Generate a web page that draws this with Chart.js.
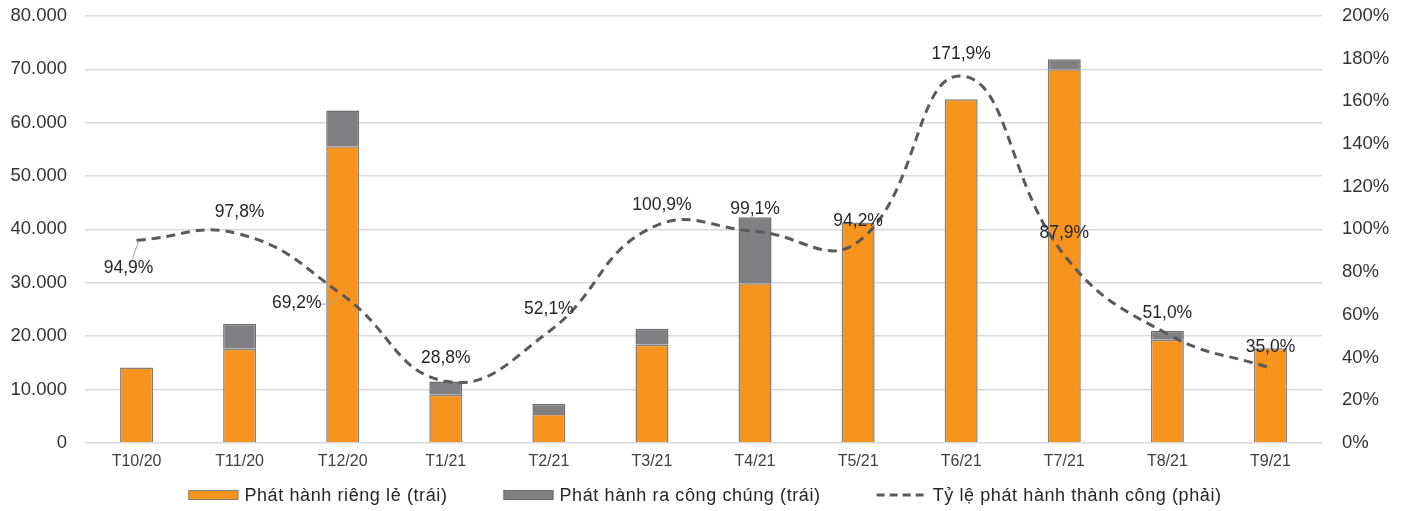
<!DOCTYPE html>
<html>
<head>
<meta charset="utf-8">
<script src="https://cdn.jsdelivr.net/npm/chart.js@4"></script>
<style>
  html, body { margin: 0; padding: 0; background: #fff; }
  #wrap { width: 1410px; height: 511px; position: relative; }
</style>
</head>
<body>
<div id="wrap"><canvas id="c" width="1410" height="511"></canvas></div>
<script>
const categories = ["T10/20","T11/20","T12/20","T1/21","T2/21","T3/21","T4/21","T5/21","T6/21","T7/21","T8/21","T9/21"];
const privateIssue = [14100, 17650, 55600, 9000, 5400, 18400, 29900, 41300, 64400, 70000, 19300, 17700];
const publicIssue  = [0, 4650, 6700, 2500, 1900, 3000, 12400, 0, 0, 1900, 1700, 0];
const successRate  = [94.9, 97.8, 69.2, 28.8, 52.1, 100.9, 99.1, 94.2, 171.9, 87.9, 51.0, 35.0];
const leftTicks = [0, 10000, 20000, 30000, 40000, 50000, 60000, 70000, 80000];
const rightTicks = [0, 20, 40, 60, 80, 100, 120, 140, 160, 180, 200];

const seriesNames = ["Phát hành riêng lẻ (trái)", "Phát hành ra công chúng (trái)", "Tỷ lệ phát hành thành công (phải)"];

// label placement style (offsets from the point, in px)
const labelStyle = {
  font: '17.5px "Liberation Sans", Arial, sans-serif',
  color: '#262626',
  offsets: [[-8,28],[0,-22],[-46,8],[0,-23],[0,-22],[10,-22],[0,-22],[0,-21],[0,-22],[0,-22],[0,-21],[0,-21]],
  leaders: [0, 2]
};

const legendStyle = {
  font: '18px "Liberation Sans", Arial, sans-serif',
  letterSpacing: '0.6px',
  color: '#262626',
  boxW: 50, boxH: 10, textGap: 6, itemGap: 56, y: 495
};

function fmtThousands(v) {
  return String(v).replace(/\B(?=(\d{3})+(?!\d))/g, '.');
}
function fmtPct(v) {
  return v.toFixed(1).replace('.', ',') + '%';
}

const dataLabelPlugin = {
  id: 'dataLabels',
  afterDatasetsDraw(chart) {
    const meta = chart.getDatasetMeta(2);
    const ctx = chart.ctx;
    ctx.save();
    ctx.font = labelStyle.font;
    ctx.fillStyle = labelStyle.color;
    ctx.textAlign = 'center';
    ctx.textBaseline = 'middle';
    meta.data.forEach((pt, i) => {
      const [dx, dy] = labelStyle.offsets[i];
      const tx = pt.x + dx, ty = pt.y + dy;
      if (labelStyle.leaders.includes(i)) {
        ctx.save();
        ctx.strokeStyle = '#a6a6a6';
        ctx.lineWidth = 1;
        ctx.beginPath();
        if (i === 0) {
          ctx.moveTo(tx + 4, ty - 10);
          ctx.lineTo(pt.x + 2, pt.y + 1);
        } else {
          ctx.moveTo(tx + 24, ty + 1);
          ctx.lineTo(tx + 34, ty + 1);
          ctx.lineTo(pt.x - 4, pt.y + 2);
        }
        ctx.stroke();
        ctx.restore();
      }
      ctx.fillText(fmtPct(successRate[i]), tx, ty);
    });
    ctx.restore();
  }
};

const legendPlugin = {
  id: 'customLegend',
  afterDraw(chart) {
    const ctx = chart.ctx;
    const ds = chart.data.datasets;
    ctx.save();
    ctx.font = legendStyle.font;
    ctx.letterSpacing = legendStyle.letterSpacing;
    const widths = ds.map(d => legendStyle.boxW + legendStyle.textGap + ctx.measureText(d.label).width);
    const total = widths.reduce((a, b) => a + b, 0) + legendStyle.itemGap * (ds.length - 1);
    let x = (chart.width - total) / 2;
    const y = legendStyle.y;
    ds.forEach((d, i) => {
      if (d.type === 'line') {
        ctx.strokeStyle = d.borderColor;
        ctx.lineWidth = d.borderWidth;
        ctx.setLineDash([8, 5]);
        ctx.beginPath();
        ctx.moveTo(x, y);
        ctx.lineTo(x + legendStyle.boxW, y);
        ctx.stroke();
        ctx.setLineDash([]);
      } else {
        ctx.fillStyle = d.backgroundColor;
        ctx.fillRect(x, y - legendStyle.boxH / 2, legendStyle.boxW, legendStyle.boxH);
        ctx.strokeStyle = d.borderColor;
        ctx.lineWidth = 1;
        ctx.strokeRect(x + 0.5, y - legendStyle.boxH / 2 + 0.5, legendStyle.boxW - 1, legendStyle.boxH - 1);
      }
      ctx.fillStyle = legendStyle.color;
      ctx.textAlign = 'left';
      ctx.textBaseline = 'middle';
      ctx.fillText(d.label, x + legendStyle.boxW + legendStyle.textGap, y + 1);
      x += widths[i] + legendStyle.itemGap;
    });
    ctx.restore();
  }
};

Chart.defaults.font.family = '"Liberation Sans", Arial, sans-serif';
Chart.defaults.color = '#333333';

function noVPad(scale) { scale.paddingTop = 0; scale.paddingBottom = 0; }

new Chart(document.getElementById('c'), {
  data: {
    labels: categories,
    datasets: [
      {
        type: 'bar',
        label: seriesNames[0],
        data: privateIssue,
        backgroundColor: '#F7941D',
        borderColor: '#7F7F7F',
        borderWidth: 1.5,
        yAxisID: 'y',
        stack: 's',
        order: 2,
        barPercentage: 0.64,
        categoryPercentage: 0.5
      },
      {
        type: 'bar',
        label: seriesNames[1],
        data: publicIssue,
        backgroundColor: '#808083',
        borderColor: '#6E6E6E',
        borderWidth: 1.5,
        yAxisID: 'y',
        stack: 's',
        order: 2,
        barPercentage: 0.64,
        categoryPercentage: 0.5
      },
      {
        type: 'line',
        label: seriesNames[2],
        data: successRate,
        yAxisID: 'y1',
        borderColor: '#5A5A5A',
        borderWidth: 3,
        borderDash: [9, 6],
        pointRadius: 0,
        tension: 0.45,
        fill: false,
        order: 0
      }
    ]
  },
  options: {
    responsive: false,
    animation: false,
    layout: { padding: { left: 0, right: 0, top: 16, bottom: 39 } },
    plugins: {
      tooltip: { enabled: false },
      legend: { display: false }
    },
    scales: {
      x: {
        stacked: true,
        grid: { display: false },
        border: { display: false },
        ticks: { font: { size: 16 }, color: '#404040', padding: 1, maxRotation: 0 }
      },
      y: {
        position: 'left',
        stacked: true,
        min: 0, max: 80000,
        afterBuildTicks(scale) { scale.ticks = leftTicks.map(v => ({ value: v })); },
        afterFit(scale) { scale.width = 85; noVPad(scale); },
        grid: { color: '#D9D9D9', lineWidth: 1.5, drawTicks: false },
        border: { display: false },
        ticks: { font: { size: 18.5 }, color: '#333333', padding: 18, callback: v => fmtThousands(v) }
      },
      y1: {
        position: 'right',
        min: 0, max: 200,
        afterBuildTicks(scale) { scale.ticks = rightTicks.map(v => ({ value: v })); },
        afterFit(scale) { scale.width = 88; noVPad(scale); },
        grid: { display: false, drawTicks: false },
        border: { display: false },
        ticks: { font: { size: 18.5 }, color: '#333333', padding: 20, callback: v => v + '%' }
      }
    }
  },
  plugins: [dataLabelPlugin, legendPlugin]
});
</script>
</body>
</html>
